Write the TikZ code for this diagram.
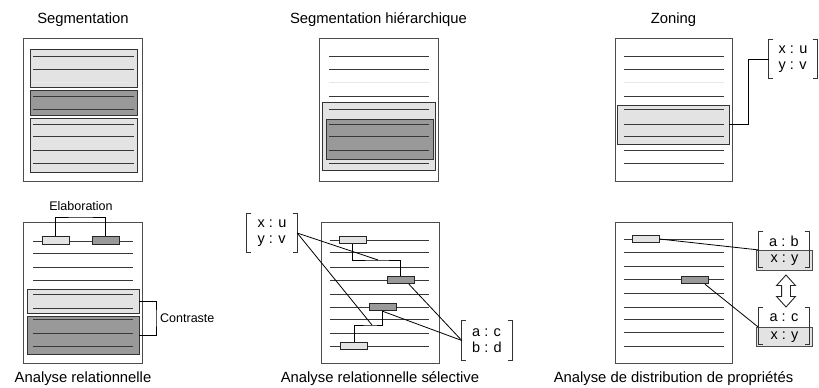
\documentclass[tikz,border=0pt]{standalone}
\usepackage{fontspec}
\setmainfont{Liberation Sans}
\usepackage{tikz}
\usetikzlibrary{positioning,shapes.arrows}
\tikzset{
  page/.style={rectangle, draw=black!70, fill=white, line width=0.9pt,
               minimum width=119pt, inner sep=0pt},
  litebox/.style={rectangle, draw=black!80, fill=black!11, line width=0.9pt, inner sep=0pt},
  darkbox/.style={litebox, fill=black!40},
  wordbox/.style={rectangle, draw=black!85, line width=0.9pt, minimum width=27pt,
                  minimum height=7.5pt, inner sep=0pt},
  tline/.style={draw=black!78, line width=0.9pt},
  faint/.style={draw=black!9, line width=0.9pt},
  link/.style={draw=black, line width=0.8pt},
  brk/.style={draw=black!80, line width=0.9pt},
  ttl/.style={font=\fontsize{14.8}{17}\selectfont, inner sep=0pt, text height=11pt, text depth=3pt},
  lbl/.style={font=\fontsize{12.5}{15}\selectfont, inner sep=0pt},
  kv/.style={align=left, inner sep=0pt, font=\fontsize{14.5}{16}\selectfont,
             minimum width=50pt, minimum height=38pt},
  kvt/.style={inner sep=0pt, font=\fontsize{14.5}{16}\selectfont},
  kvf/.style={inner sep=0pt, minimum width=50pt, minimum height=36pt},
  grey/.style={rectangle, draw=black!70, fill=black!11, line width=0.9pt, minimum width=56.5pt,
               minimum height=19.7pt, inner sep=0pt, font=\fontsize{14.5}{16}\selectfont}
}
\newcommand\kvbrackets[1]{%
  \draw[brk] ([xshift=4.5pt]#1.north west) -- (#1.north west) -- (#1.south west) -- ([xshift=4.5pt]#1.south west);
  \draw[brk] ([xshift=-4.5pt]#1.north east) -- (#1.north east) -- (#1.south east) -- ([xshift=-4.5pt]#1.south east);}

\begin{document}
\begin{tikzpicture}[x=1pt, y=-1pt]
\useasboundingbox (0,0) rectangle (819,388);

% Segmentation
\node[page, minimum height=143pt] (pg1) at (83,109.5) {};
\node[ttl, above=10.7pt of pg1] (t1) {Segmentation};
\node[litebox, minimum width=107pt, minimum height=38pt] (sa) at (83.5,68) {};
\node[darkbox, minimum width=107pt, minimum height=25pt] (sb) at (83.5,102.5) {};
\node[litebox, minimum width=107pt, minimum height=54pt] (sc) at (83.5,145) {};
\foreach \y in {56,69,96,109,124,136,150,163}
  \draw[tline] (33,\y) -- (134,\y);
\draw[faint] (33,82) -- (134,82);

% Segmentation hierarchique
\node[page, minimum height=143pt] (pg2) at (378.5,109.5) {};
\node[ttl, above=10.7pt of pg2] (t2) {Segmentation hiérarchique};
\node[litebox, minimum width=113pt, minimum height=68pt] (ha) at (378.5,136) {};
\node[darkbox, minimum width=107pt, minimum height=40pt] (hb) at (379.5,139) {};
\foreach \y in {56,69,96,109,124,136,150,163}
  \draw[tline] (329,\y) -- (429,\y);
\draw[faint] (329,82) -- (429,82);

% Zoning
\node[page, minimum width=117pt, minimum height=143pt] (pg3) at (673.5,109.5) {};
\node[ttl, above=10.7pt of pg3] (t3) {Zoning};
\node[litebox, minimum width=112pt, minimum height=39pt] (zn) at (673,124.5) {};
\foreach \y in {56,69,96,109,124,136,150,163}
  \draw[tline] (624,\y) -- (724,\y);
\draw[faint] (624,82) -- (724,82);
\node[kv, minimum width=48pt] (kv1) at (793,59) {x : u\\y : v};
\kvbrackets{kv1}
\draw[link] (zn.east) -- ++(19,0) |- (kv1.west);

% Analyse relationnelle
\node[page, minimum height=141pt] (pg4) at (83,292.5) {};
\node[ttl, below=8.3pt of pg4] (t4) {Analyse relationnelle};
\node[litebox, minimum width=112pt, minimum height=24pt] (lb) at (83,301) {};
\node[darkbox, minimum width=112pt, minimum height=38pt] (db) at (83,335) {};
\foreach \y in {241,253,267,280,294,308,319,333,346}
  \draw[tline] (33,\y) -- (133,\y);
\node[wordbox, fill=black!11] (e1) at (55.5,240.5) {};
\node[wordbox, fill=black!40] (e2) at (105.5,240.5) {};
\coordinate (elab) at (81,217);
\draw[link] (e1.north) |- (elab) -| (e2.north);
\node[lbl, above=6pt of elab] (l1) {Elaboration};
\coordinate (ctr) at (156,318);
\draw[link] (lb.east) -| (ctr) |- (db.east);
\node[lbl, right=4pt of ctr] (l2) {Contraste};

% Analyse relationnelle selective
\node[page, minimum width=118pt, minimum height=141pt] (pg5) at (380,292.5) {};
\node[ttl, below=8.3pt of pg5] (t5) {Analyse relationnelle sélective};
\foreach \y in {240,252,267,280,294,307,319,333,346}
  \draw[tline] (330,\y) -- (429,\y);
\node[wordbox, fill=black!11] (r1) at (352.5,240) {};
\node[wordbox, fill=black!40] (r2) at (400.5,280) {};
\node[wordbox, fill=black!40] (r3) at (382.5,307) {};
\node[wordbox, fill=black!11] (r4) at (354,346) {};
\coordinate (j1) at (378,260);
\coordinate (j2) at (372,325);
\draw[link] (r1.south) |- (j1) -| (r2.north);
\draw[link] (r3.south) |- (j2) -| (r4.north);
\node[kv] (kv2) at (272,233) {x : u\\y : v};
\node[kv, minimum height=39pt] (kv3) at (487,340.5) {a : c\\b : d};
\kvbrackets{kv2}
\kvbrackets{kv3}
\draw[link] (kv2.east) -- (j1);
\draw[link] (kv2.east) -- (j2);
\draw[link] (kv3.west) -- ([xshift=-5.5pt]r2.south east);
\draw[link] (kv3.west) -- (r3.south);

% Analyse de distribution de proprietes
\node[page, minimum width=117pt, minimum height=141pt] (pg6) at (673.5,292.5) {};
\node[ttl, below=8.3pt of pg6] (t6) {Analyse de distribution de propriétés};
\foreach \y in {239,252,266,279,293,307,319,332,346}
  \draw[tline] (624,\y) -- (724,\y);
\node[wordbox, fill=black!11] (w1) at (645.5,239) {};
\node[wordbox, fill=black!40] (w2) at (694.5,280) {};
\node[grey] (abx) at (784.5,260.2) {x : y};
\node[kvf] (abf) at (784,249.3) {};
\kvbrackets{abf}
\node[kvt] (abt) at (784,241.3) {a : b};
\node[grey] (acx) at (784.5,337) {x : y};
\node[kvf] (acf) at (784,326) {};
\kvbrackets{acf}
\node[kvt] (act) at (784,318) {a : c};
\node[double arrow, draw=black!85, fill=white, line width=0.9pt, rotate=90, inner sep=0pt,
      text height=8pt, text depth=0pt, minimum height=32pt, minimum width=18pt,
      double arrow head extend=5pt, double arrow tip angle=84] (swap) at (786,291) {};
\draw[link] (w1.east) -- ([xshift=2.5pt]abx.north west);
\draw[link] ([xshift=-3.5pt]w2.south east) -- ([xshift=2pt]acx.north west);
\end{tikzpicture}
\end{document}
